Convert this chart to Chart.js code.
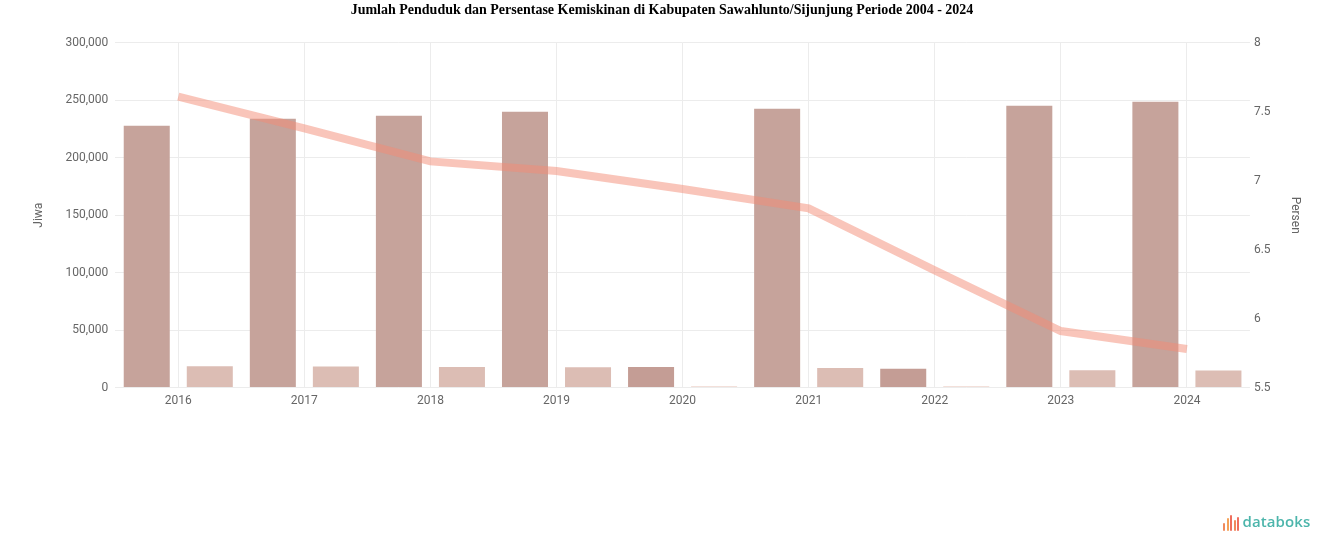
<!DOCTYPE html>
<html>
<head>
<meta charset="utf-8">
<script src="https://cdn.jsdelivr.net/npm/chart.js@4.4.1/dist/chart.umd.min.js"></script>
<style>
  html,body{margin:0;padding:0;background:#fff;}
  #wrap{position:relative;width:1324px;height:547px;}
  #logo{position:absolute;left:1223px;top:507px;height:24px;display:flex;align-items:flex-end;font-family:"Open Sans","DejaVu Sans",sans-serif;}
  #logo .ic{display:flex;align-items:flex-end;height:18px;margin-right:2px;}
  #logo .ic span{display:inline-block;width:2px;margin-right:1.5px;border-radius:1px;}
  #logo .tx{font-size:15px;font-weight:600;color:#4cb5ab;line-height:20px;letter-spacing:0.1px;}
</style>
</head>
<body>
<div id="wrap">
  <canvas id="c" width="1324" height="547"></canvas>
  <div id="logo">
    <div class="ic">
      <span style="height:8px;background:#f08a5d;"></span>
      <span style="height:13px;background:#f4a259;"></span>
      <span style="height:16px;background:#ef6f5e;"></span>
      <span style="height:11px;background:#f08a5d;"></span>
      <span style="height:14px;background:#ef6f5e;"></span>
    </div>
    <div class="tx">databoks</div>
  </div>
</div>
<script>
const years = ["2016","2017","2018","2019","2020","2021","2022","2023","2024"];
const jumlahPenduduk = [227800, 234000, 236500, 240000, null, 242600, null, 245200, 248700];
const pendudukMiskinA = [null, null, null, null, 17900, null, 16400, null, null];
const pendudukMiskin = [18500, 18300, 17900, 17700, null, 17000, null, 15200, 14900];
const lainnya = [null, null, null, null, 1500, null, 1500, null, null];
const persentaseKemiskinan = [7.61, 7.38, 7.14, 7.07, 6.94, 6.80, 6.35, 5.91, 5.78];
const leftTicks = [0, 50000, 100000, 150000, 200000, 250000, 300000];
const rightTicks = [5.5, 6, 6.5, 7, 7.5, 8];

const tickFont = {family: "Roboto, 'DejaVu Sans', sans-serif", size: 12};
const barOpts = {barPercentage: 0.73, categoryPercentage: 1.0, skipNull: true, yAxisID: 'y', order: 2};

new Chart(document.getElementById('c'), {
  type: 'bar',
  data: {
    labels: years,
    datasets: [
      Object.assign({label: 'Jumlah Penduduk', data: jumlahPenduduk, backgroundColor: '#c6a39b'}, barOpts),
      Object.assign({label: 'Jumlah Penduduk Miskin', data: pendudukMiskinA, backgroundColor: '#c49d95'}, barOpts),
      Object.assign({label: 'Jumlah Penduduk Miskin ', data: pendudukMiskin, backgroundColor: '#dcbdb4'}, barOpts),
      Object.assign({label: 'Lainnya', data: lainnya, backgroundColor: '#f3e0da'}, barOpts),
      {
        type: 'line', label: 'Persentase Kemiskinan', data: persentaseKemiskinan, yAxisID: 'y1', order: 1,
        borderColor: 'rgba(244,140,118,0.5)', borderWidth: 8, pointRadius: 0, tension: 0, fill: false
      }
    ]
  },
  options: {
    responsive: false,
    animation: false,
    layout: {padding: {left: 0, right: 0, top: 0, bottom: 133}},
    plugins: {
      legend: {display: false},
      tooltip: {enabled: false},
      title: {
        display: true,
        text: 'Jumlah Penduduk dan Persentase Kemiskinan di Kabupaten Sawahlunto/Sijunjung Periode 2004 - 2024',
        font: {family: "'Liberation Serif', 'DejaVu Serif', serif", size: 14, weight: 'bold'},
        color: '#000',
        padding: {top: 2, bottom: 24}
      }
    },
    scales: {
      x: {
        grid: {offset: false, color: '#ececec', drawTicks: false},
        border: {display: false},
        ticks: {font: tickFont, color: '#666', padding: 6, autoSkip: false, maxRotation: 0}
      },
      y: {
        position: 'left', min: 0, max: 300000,
        afterBuildTicks: s => { s.ticks = leftTicks.map(v => ({value: v})); },
        grid: {color: '#ececec', drawTicks: false},
        border: {display: false},
        ticks: {font: tickFont, color: '#666', padding: 7, callback: v => v.toLocaleString('en-US')},
        title: {display: true, text: 'Jiwa', font: {family: "Roboto, 'DejaVu Sans', sans-serif", size: 12}, color: '#666', padding: {top: 32, bottom: 12}}
      },
      y1: {
        position: 'right', min: 5.5, max: 8,
        afterBuildTicks: s => { s.ticks = rightTicks.map(v => ({value: v})); },
        grid: {drawOnChartArea: false, drawTicks: false},
        border: {display: false},
        ticks: {font: tickFont, color: '#666', padding: 4, callback: v => String(v)},
        title: {display: true, text: 'Persen', font: {family: "Roboto, 'DejaVu Sans', sans-serif", size: 12}, color: '#666', padding: {top: 22, bottom: 13}}
      }
    }
  }
});
</script>
</body>
</html>
